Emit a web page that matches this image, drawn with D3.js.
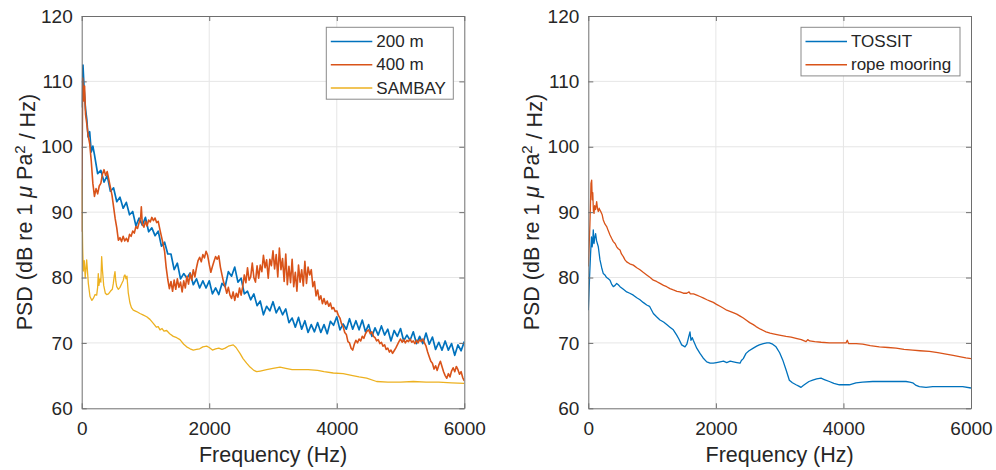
<!DOCTYPE html>
<html>
<head>
<meta charset="utf-8">
<script src="https://cdn.jsdelivr.net/npm/d3@7"></script>
<style>
  body { margin: 0; background: #fff; }
  svg { display: block; }
  text { font-family: "Liberation Sans", Arial, sans-serif; fill: #262626; }
</style>
</head>
<body>
<div id="chart"></div>
<script>
// ---- data: [frequency Hz, PSD dB] ----
const psd200m = [[0,106],[20,112.5],[40,108.5],[60,105.8],[80,104.2],[100,101.5],[125,102.3],[150,99.2],[175,100.1],[200,98.8],[250,95.9],[300,96.4],[350,94.6],[400,95.6],[450,93.2],[500,93.7],[550,91.6],[600,92.3],[650,90.6],[700,91.5],[750,89.6],[800,90.1],[850,87.9],[900,89.1],[950,88.0],[1000,89.2],[1050,87.0],[1100,87.6],[1150,86.4],[1200,87.1],[1250,84.8],[1300,85.4],[1350,83.6],[1400,83.6],[1450,81.2],[1500,82.2],[1550,79.8],[1600,80.6],[1650,79.9],[1700,80.7],[1750,78.9],[1800,79.8],[1850,78.4],[1900,79.5],[1950,78.4],[2000,79.5],[2050,77.5],[2100,78.4],[2150,77.4],[2200,79.1],[2250,78.6],[2300,80.9],[2350,80.2],[2400,81.6],[2450,79.3],[2500,79.9],[2550,77.5],[2600,77.9],[2650,76.6],[2700,77.5],[2750,75.7],[2800,76.4],[2850,74.3],[2900,75.6],[2950,74.9],[3000,76.3],[3050,74.6],[3100,75.5],[3150,74.3],[3200,75.2],[3250,73.1],[3300,73.8],[3350,72.4],[3400,73.9],[3450,72.1],[3500,73.4],[3550,71.6],[3600,72.8],[3650,71.7],[3700,73.1],[3750,71.6],[3800,72.8],[3850,71.4],[3900,73.3],[3950,72.7],[4000,74.0],[4050,72.0],[4100,72.9],[4150,72.1],[4200,73.7],[4250,72.1],[4300,73.4],[4350,72.0],[4400,73.5],[4450,71.7],[4500,72.8],[4550,71.0],[4600,72.3],[4650,71.2],[4700,72.6],[4750,71.2],[4800,72.1],[4850,70.3],[4900,71.9],[4950,71.0],[5000,72.2],[5050,70.3],[5100,71.2],[5150,70.4],[5200,71.7],[5250,69.9],[5300,71.0],[5350,69.9],[5400,71.5],[5450,69.8],[5500,70.9],[5550,69.0],[5600,70.1],[5650,68.9],[5700,70.3],[5750,68.9],[5800,69.9],[5850,68.1],[5900,69.7],[5950,68.8],[6000,70.2]];

const psd400m = [[0,87],[15,110.5],[30,107],[45,109.3],[60,105],[80,103.5],[100,101.8],[125,100.5],[150,97.8],[175,94.4],[200,92.4],[225,93.6],[250,92.8],[275,94],[300,94.4],[325,95.8],[350,96.5],[375,95.6],[400,96.2],[425,95],[450,93.8],[475,92.6],[500,90.8],[525,89],[550,87.6],[575,85.7],[600,86.1],[625,85.5],[650,86.3],[675,85.6],[700,86.0],[725,85.5],[750,86.6],[775,86.3],[800,87.1],[825,86.8],[850,87.8],[875,87.5],[900,88.4],[925,89.2],[935,90.8],[950,88.2],[975,87.7],[1000,88.6],[1025,87.9],[1050,88.8],[1075,88.5],[1100,89.2],[1125,88.7],[1150,89.1],[1175,88.4],[1200,88.6],[1225,87.4],[1250,86.3],[1275,85.2],[1300,84.0],[1325,81.5],[1350,79.7],[1375,78.3],[1400,79.4],[1425,77.9],[1450,79.6],[1475,78.2],[1500,79.8],[1525,78.5],[1550,79.3],[1575,77.8],[1600,79.5],[1625,78.4],[1650,80.2],[1675,79.0],[1700,80.6],[1725,79.6],[1750,81.2],[1775,80.1],[1800,81.5],[1825,82.6],[1850,83.1],[1875,82.4],[1900,83.5],[1925,83.0],[1950,84.0],[1975,83.4],[2000,82.0],[2025,80.8],[2050,81.7],[2075,82.5],[2100,83.2],[2125,82.8],[2150,83.3],[2175,81.6],[2200,80.4],[2225,79.3],[2250,78.6],[2275,77.6],[2300,78.5],[2325,77.3],[2350,76.8],[2375,77.8],[2400,76.5],[2425,77.6],[2450,77.0],[2475,78.4],[2500,77.3],[2525,78.6],[2550,80.4],[2575,79.2],[2600,81.5],[2625,79.6],[2650,80.1],[2675,82.2],[2700,80.0],[2725,79.3],[2750,81.8],[2775,79.9],[2800,81.9],[2825,80.9],[2850,83.4],[2875,81.5],[2900,82.7],[2925,79.9],[2950,82.8],[2975,81.8],[3000,84.1],[3025,81.3],[3050,83.5],[3075,80.1],[3100,84.5],[3125,81.2],[3150,82.9],[3175,79.4],[3200,83.6],[3225,78.9],[3250,81.7],[3275,79.2],[3300,82.8],[3325,78.6],[3350,80.8],[3375,77.9],[3400,81.9],[3425,79.3],[3450,81.2],[3475,78.7],[3500,82.5],[3525,79.1],[3550,81.6],[3575,80.4],[3600,81.2],[3625,78.6],[3650,79.4],[3675,77.2],[3700,78.1],[3725,76.6],[3750,77.2],[3775,76.0],[3800,76.8],[3825,75.9],[3850,76.4],[3875,75.6],[3900,76.1],[3925,75.2],[3950,75.4],[3975,74.8],[4000,74.9],[4025,74.2],[4050,73.8],[4075,72.9],[4100,72.5],[4125,71.6],[4150,71.3],[4175,70.2],[4200,70.0],[4225,69.2],[4250,68.9],[4275,69.8],[4300,70.4],[4325,70.0],[4350,70.6],[4375,70.3],[4400,71.0],[4425,70.7],[4450,71.4],[4475,71.8],[4500,72.0],[4525,71.4],[4550,71.7],[4575,71.0],[4600,70.8],[4625,70.3],[4650,70.5],[4675,69.9],[4700,70.1],[4725,69.5],[4750,69.7],[4775,69.0],[4800,69.2],[4825,68.6],[4850,68.9],[4875,68.4],[4900,68.8],[4925,69.2],[4950,69.7],[4975,70.2],[5000,70.6],[5025,70.1],[5050,70.5],[5075,70.0],[5100,70.4],[5125,70.2],[5150,70.6],[5175,70.1],[5200,70.3],[5225,69.9],[5250,70.4],[5275,70.0],[5300,70.5],[5325,70.2],[5350,70.6],[5375,70.0],[5400,69.5],[5425,68.6],[5450,67.9],[5475,67.2],[5500,66.9],[5525,66.0],[5550,66.5],[5575,65.8],[5600,66.6],[5625,67.2],[5650,66.4],[5675,65.6],[5700,65.0],[5725,64.6],[5750,65.3],[5775,64.8],[5800,65.7],[5825,66.2],[5850,65.6],[5875,66.4],[5900,65.9],[5925,65.2],[5950,65.6],[5975,64.7],[6000,64.2]];

const psdSambay = [[0,95],[8,89],[15,84.5],[25,81],[40,82.6],[55,80],[78,82.7],[104,79.1],[130,77.1],[160,76.5],[182,76.8],[210,77.4],[235,77.3],[250,78.5],[260,80.6],[270,78.8],[285,79.8],[300,79.3],[313,83.2],[325,81.2],[345,78.8],[370,77.6],[392,77.4],[420,77.5],[450,77.9],[480,78.2],[496,79.1],[510,80.2],[522,80.9],[535,79.4],[549,78.6],[575,78.2],[600,78.5],[625,79.0],[653,79.6],[665,80.2],[679,80.4],[695,79.8],[710,80.2],[731,77.6],[757,76.1],[780,75.4],[809,75.0],[860,74.8],[914,74.5],[960,74.3],[1019,74.0],[1070,73.6],[1123,73.0],[1170,72.4],[1200,72.5],[1228,72.0],[1260,72.2],[1290,71.8],[1332,71.9],[1380,71.4],[1437,71.0],[1490,70.8],[1541,70.5],[1600,69.8],[1646,69.4],[1700,69.1],[1750,68.9],[1800,69.0],[1850,69.1],[1900,69.4],[1960,69.5],[2000,69.3],[2050,68.9],[2100,69.1],[2150,69.2],[2200,69.0],[2250,69.2],[2300,69.5],[2377,69.7],[2420,69.3],[2482,68.4],[2530,67.6],[2586,66.9],[2640,66.3],[2700,65.8],[2744,65.6],[2800,65.7],[2900,65.9],[3000,66.1],[3110,66.3],[3200,66.1],[3300,65.9],[3423,65.9],[3550,65.9],[3700,65.8],[3800,65.6],[3945,65.4],[4100,65.3],[4250,65.0],[4350,64.8],[4468,64.6],[4625,64.1],[4800,64.0],[5000,64.0],[5200,64.1],[5400,64.0],[5600,64.0],[5800,63.9],[6000,63.8]];

const psdTossit = [[0,75.0],[10,77.5],[20,80.1],[35,83.5],[50,86.2],[60,84.7],[70,85.5],[78,87.3],[90,85.2],[100,86.0],[115,86.7],[130,85.6],[157,84.7],[183,82.7],[210,81.5],[235,80.6],[260,80.4],[287,80.0],[315,79.8],[340,79.6],[365,79.0],[392,78.6],[420,78.8],[445,79.1],[470,78.9],[497,78.6],[550,78.2],[602,77.8],[650,77.6],[706,77.3],[760,76.9],[810,76.6],[860,76.2],[916,75.8],[960,75.6],[1020,74.5],[1070,74.0],[1124,73.5],[1180,73.2],[1229,72.8],[1280,72.4],[1333,72.0],[1386,71.2],[1420,70.6],[1464,69.7],[1516,69.4],[1545,69.8],[1568,70.7],[1594,71.7],[1610,70.4],[1630,70.8],[1646,70.4],[1700,69.2],[1751,68.4],[1800,67.7],[1857,67.1],[1910,66.9],[1960,66.9],[2010,67.0],[2066,67.1],[2120,67.2],[2170,67.0],[2225,67.2],[2275,67.1],[2330,67.0],[2379,66.9],[2400,67.3],[2430,67.6],[2473,68.4],[2520,68.8],[2587,69.2],[2640,69.5],[2681,69.7],[2744,69.9],[2800,70.0],[2838,70.0],[2890,69.8],[2943,69.4],[3000,68.5],[3048,67.4],[3100,65.9],[3152,64.3],[3200,63.9],[3257,63.6],[3300,63.4],[3335,63.2],[3370,63.5],[3414,63.8],[3460,64.1],[3518,64.3],[3580,64.5],[3649,64.6],[3700,64.4],[3779,64.1],[3850,63.8],[3936,63.6],[4000,63.6],[4092,63.6],[4197,63.9],[4300,64.0],[4459,64.1],[4600,64.1],[4720,64.1],[4850,64.1],[4981,64.1],[5040,64.0],[5086,63.9],[5140,63.5],[5190,63.3],[5295,63.2],[5400,63.3],[5500,63.3],[5609,63.3],[5750,63.3],[5870,63.3],[6000,63.1]];

const psdRope = [[0,81.7],[10,84.0],[25,88],[35,91.5],[42,94.4],[53,94.9],[62,91.9],[70,93.0],[80,90.2],[90,89.8],[100,91.0],[115,90.4],[131,91.6],[145,90.5],[157,90.1],[170,90.6],[183,90.3],[200,90.0],[218,89.6],[235,88.8],[260,88.2],[288,87.8],[315,87.1],[340,86.5],[365,86.0],[392,85.5],[420,85.2],[445,84.7],[470,84.4],[497,84.2],[520,83.6],[549,83.2],[575,82.7],[602,82.4],[650,82.1],[706,81.9],[760,81.5],[810,81.2],[860,80.8],[916,80.4],[970,80.0],[1020,79.6],[1070,79.4],[1124,79.1],[1180,78.8],[1229,78.6],[1280,78.3],[1333,78.1],[1390,77.9],[1437,77.8],[1490,77.6],[1543,77.6],[1580,77.8],[1600,77.5],[1650,77.5],[1700,77.3],[1751,77.1],[1800,76.9],[1860,76.6],[1910,76.4],[1960,76.2],[2010,75.9],[2065,75.6],[2120,75.3],[2170,75.0],[2230,74.8],[2280,74.6],[2327,74.4],[2380,74.1],[2430,73.8],[2473,73.5],[2530,73.1],[2587,72.8],[2630,72.5],[2700,72.1],[2786,71.7],[2850,71.5],[2900,71.4],[2995,71.2],[3100,71.0],[3180,70.9],[3257,70.7],[3340,70.5],[3414,70.2],[3440,70.5],[3470,70.3],[3550,70.2],[3650,70.1],[3779,70.0],[3900,70.0],[4000,70.0],[4040,70.0],[4060,70.4],[4080,69.9],[4200,69.9],[4302,69.8],[4420,69.6],[4563,69.4],[4700,69.3],[4825,69.2],[4950,69.0],[5086,68.9],[5200,68.8],[5347,68.7],[5480,68.5],[5609,68.3],[5720,68.1],[5818,67.9],[5920,67.7],[6000,67.6]];

const xTicks = [0, 2000, 4000, 6000];
const yTicks = [60, 70, 80, 90, 100, 110, 120];
const leftNames = ["200 m", "400 m", "SAMBAY"];
const rightNames = ["TOSSIT", "rope mooring"];
const colors = ["#0072BD", "#D95319", "#EDB120"];

const svg = d3.select("#chart")
  .append("svg")
    .attr("width", 996)
    .attr("height", 470);

function drawPanel(x0, x1, series, names, widths, legendW, labelX, id) {
  const y0 = 16, y1 = 408.3;
  const x = d3.scaleLinear().domain([0, 6000]).range([x0, x1]);
  const y = d3.scaleLinear().domain([60, 120]).range([y1, y0]);
  const g = svg.append("g");

  // grid
  g.selectAll(".vg").data(xTicks.slice(1, -1)).join("line")
    .attr("x1", d => x(d)).attr("x2", d => x(d))
    .attr("y1", y0).attr("y2", y1)
    .attr("stroke", "#e6e6e6").attr("stroke-width", 1);
  g.selectAll(".hg").data(yTicks.slice(1, -1)).join("line")
    .attr("x1", x0).attr("x2", x1)
    .attr("y1", d => y(d)).attr("y2", d => y(d))
    .attr("stroke", "#e6e6e6").attr("stroke-width", 1);

  svg.append("clipPath").attr("id", id)
    .append("rect").attr("x", x0).attr("y", y0)
    .attr("width", x1 - x0).attr("height", y1 - y0);

  const line = d3.line().x(d => x(d[0])).y(d => y(d[1]));
  const lg = g.append("g").attr("clip-path", `url(#${id})`);
  series.forEach((s, i) => {
    lg.append("path")
      .datum(s)
      .attr("d", line)
      .attr("fill", "none")
      .attr("stroke", colors[i])
      .attr("stroke-width", widths[i])
      .attr("stroke-linejoin", "round");
  });

  // axes, MATLAB-like box with inward ticks
  const axisColor = "#6e6e6e";
  const fmt = d3.format("d");
  const bottom = g.append("g").attr("transform", `translate(0,${y1})`)
    .call(d3.axisBottom(x).tickValues(xTicks).tickFormat(fmt).tickSize(-5).tickSizeOuter(0).tickPadding(13));
  const left = g.append("g").attr("transform", `translate(${x0},0)`)
    .call(d3.axisLeft(y).tickValues(yTicks).tickFormat(fmt).tickSize(-5).tickSizeOuter(0).tickPadding(9));
  const top = g.append("g").attr("transform", `translate(0,${y0})`)
    .call(d3.axisTop(x).tickValues(xTicks).tickSize(-5).tickSizeOuter(0).tickFormat(""));
  const right = g.append("g").attr("transform", `translate(${x1},0)`)
    .call(d3.axisRight(y).tickValues(yTicks).tickSize(-5).tickSizeOuter(0).tickFormat(""));
  [bottom, left, top, right].forEach(a => {
    a.selectAll("path, line").attr("stroke", axisColor).attr("stroke-width", 1);
    a.selectAll("text").attr("fill", "#262626").style("font-size", "19px")
      .style("font-family", "'Liberation Sans', Arial, sans-serif");
  });

  // axis labels
  g.append("text")
    .attr("x", (x0 + x1) / 2).attr("y", 462)
    .attr("text-anchor", "middle")
    .style("font-size", "21.5px")
    .text("Frequency (Hz)");

  const yl = g.append("text")
    .attr("transform", `translate(${labelX},${(y0 + y1) / 2}) rotate(-90)`)
    .attr("text-anchor", "middle")
    .style("font-size", "21.5px");
  yl.append("tspan").text("PSD (dB re 1 ");
  yl.append("tspan").style("font-style", "italic").text("\u03BC");
  yl.append("tspan").text(" Pa");
  yl.append("tspan").attr("dy", "-0.45em").style("font-size", "15px").text("2");
  yl.append("tspan").attr("dy", "0.45em").text(" / Hz)");

  // legend
  const lx1 = x1 - 11, lx0 = lx1 - legendW, ly0 = y0 + 11.3;
  const rowH = 23.3;
  g.append("rect")
    .attr("x", lx0).attr("y", ly0)
    .attr("width", legendW).attr("height", names.length * rowH + 2)
    .attr("fill", "#fff").attr("stroke", "#8a8a8a").attr("stroke-width", 1);
  names.forEach((n, i) => {
    const cy = ly0 + 14.2 + i * rowH;
    g.append("line")
      .attr("x1", lx0 + 4.5).attr("x2", lx0 + 46)
      .attr("y1", cy).attr("y2", cy)
      .attr("stroke", colors[i]).attr("stroke-width", 1.5);
    g.append("text")
      .attr("x", lx0 + 50).attr("y", cy)
      .attr("dominant-baseline", "central")
      .style("font-size", "17px")
      .text(n);
  });
}

drawPanel(81.7, 464.3, [psd200m, psd400m, psdSambay], leftNames, [1.7, 1.6, 1.3], 127, 32, "clipL");
drawPanel(588.3, 971, [psdTossit, psdRope], rightNames, [1.3, 1.3], 159, 539, "clipR");
</script>
</body>
</html>
